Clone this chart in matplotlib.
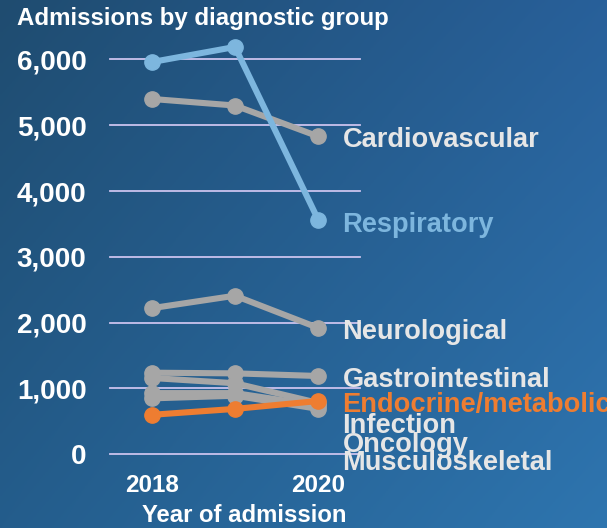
import matplotlib
matplotlib.use("Agg")
import matplotlib.pyplot as plt
from matplotlib.colors import to_rgb
import numpy as np

years = [2018, 2019, 2020]
groups = ["Infection", "Oncology", "Musculoskeletal", "Gastrointestinal",
          "Neurological", "Cardiovascular", "Endocrine/metabolic", "Respiratory"]
infection = [1160, 1080, 780]
oncology = [930, 930, 740]
musculoskeletal = [850, 890, 690]
gastrointestinal = [1240, 1230, 1190]
neurological = [2220, 2410, 1920]
cardiovascular = [5400, 5300, 4830]
endocrine = [600, 690, 810]
respiratory = [5960, 6190, 3560]
series = [infection, oncology, musculoskeletal, gastrointestinal,
          neurological, cardiovascular, endocrine, respiratory]

GRAY = "#a6a6a6"
colors = {"Endocrine/metabolic": "#ee7d31", "Respiratory": "#7db6de"}
label_colors = {"Endocrine/metabolic": "#ee7d31", "Respiratory": "#7db6de"}
# baseline of each end label, in data units (labels are nudged apart)
label_base = {"Cardiovascular": 4675, "Respiratory": 3383, "Neurological": 1752,
              "Gastrointestinal": 1023, "Endocrine/metabolic": 647,
              "Infection": 328, "Oncology": 35, "Musculoskeletal": -239}

FONT = "Liberation Sans"
W, H = 607, 528
fig = plt.figure(figsize=(W / 100, H / 100), dpi=100)

# diagonal blue gradient background
bg = fig.add_axes([0, 0, 1, 1], zorder=-10)
tl, tr = np.array(to_rgb("#1f4c70")), np.array(to_rgb("#28609a"))
bl, br = np.array(to_rgb("#245d8c")), np.array(to_rgb("#2e75af"))
u = np.linspace(0, 1, 200)[None, :, None]
v = np.linspace(0, 1, 200)[:, None, None]
img = (1 - v) * ((1 - u) * tl + u * tr) + v * ((1 - u) * bl + u * br)
bg.imshow(img, aspect="auto", extent=[0, 1, 0, 1])
bg.axis("off")

ax = fig.add_axes([110 / W, 1 - 454.3 / H, 250 / W, (454.3 - 46.3) / H])
ax.set_facecolor("none")
ax.set_xlim(2017.5, 2020.5)
ax.set_ylim(0, 6200)
for s in ax.spines.values():
    s.set_visible(False)

ax.set_yticks([0, 1000, 2000, 3000, 4000, 5000, 6000])
ax.set_yticklabels(["0", "1,000", "2,000", "3,000", "4,000", "5,000", "6,000"])
ax.set_xticks([2018, 2020])
ax.set_xticklabels(["2018", "2020"])
ax.tick_params(axis="y", length=0, pad=17, labelsize=20, labelcolor="white")
ax.tick_params(axis="x", length=0, pad=14, labelsize=17.5, labelcolor="white")
for lab in ax.get_xticklabels() + ax.get_yticklabels():
    lab.set_fontfamily(FONT)
    lab.set_fontweight("bold")
for yv in ax.get_yticks():
    ax.axhline(yv, color="#cbc3ee", lw=1.3, zorder=1, clip_on=False)

for name, vals in zip(groups, series):
    c = colors.get(name, GRAY)
    z = 4 if name in colors else 3
    ax.plot(years, vals, color=c, lw=4.4, marker="o", markersize=11,
            zorder=z, clip_on=False, solid_capstyle="round")
    ax.text(2020.29, label_base[name], name, color=label_colors.get(name, "#e6e6e6"),
            fontsize=19.6, fontfamily=FONT, fontweight="bold",
            ha="left", va="baseline", clip_on=False, zorder=5)

fig.text(17 / W, 1 - 25.5 / H, "Admissions by diagnostic group", color="white",
         fontsize=17.3, fontfamily=FONT, fontweight="bold", ha="left", va="baseline")
fig.text(244 / W, 1 - 521.5 / H, "Year of admission", color="white",
         fontsize=17.2, fontfamily=FONT, fontweight="bold", ha="center", va="baseline")

fig.savefig("out.png", dpi=100)
